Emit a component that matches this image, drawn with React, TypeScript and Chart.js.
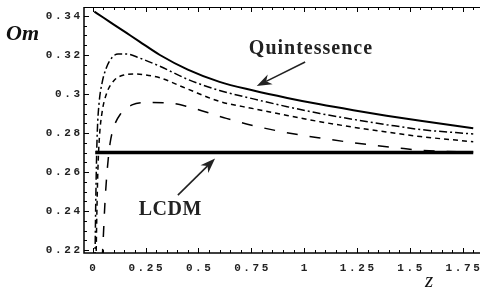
import { useEffect, useRef } from "react";
import { Chart, registerables } from "chart.js";

Chart.register(...registerables);

// ---- data ----
const zQuint = [0.008, 0.05, 0.1, 0.16, 0.22, 0.318, 0.45, 0.6, 0.76, 0.92, 1.075, 1.233, 1.39, 1.55, 1.8];
const omQuint = [0.3422, 0.3392, 0.3356, 0.3313, 0.327, 0.32, 0.3125, 0.3062, 0.3018, 0.298, 0.2947, 0.2917, 0.2889, 0.2863, 0.2825];

const zDashDot = [0.011, 0.014, 0.018, 0.022, 0.03, 0.045, 0.065, 0.09, 0.12, 0.16, 0.22, 0.318, 0.45, 0.6, 0.76, 0.92, 1.075, 1.233, 1.39, 1.55, 1.8];
const omDashDot = [0.215, 0.24, 0.265, 0.281, 0.295, 0.306, 0.3135, 0.3185, 0.3205, 0.3205, 0.3185, 0.3142, 0.3075, 0.3018, 0.2975, 0.2935, 0.29, 0.287, 0.2843, 0.2818, 0.2795];

const zShortDash = [0.016, 0.02, 0.025, 0.032, 0.045, 0.065, 0.1, 0.15, 0.2, 0.25, 0.318, 0.45, 0.6, 0.76, 0.92, 1.075, 1.233, 1.39, 1.55, 1.8];
const omShortDash = [0.215, 0.24, 0.262, 0.278, 0.291, 0.3, 0.3068, 0.3098, 0.3103, 0.3098, 0.3083, 0.3025, 0.2962, 0.2925, 0.289, 0.2858, 0.283, 0.2805, 0.2782, 0.2755];

const zLongDash = [0.045, 0.05, 0.058, 0.068, 0.082, 0.1, 0.13, 0.186, 0.257, 0.35, 0.45, 0.632, 0.76, 0.87, 0.98, 1.09, 1.22, 1.33, 1.455, 1.55, 1.65, 1.8];
const omLongDash = [0.215, 0.226, 0.244, 0.26, 0.2745, 0.283, 0.2895, 0.2944, 0.2956, 0.2955, 0.2935, 0.2875, 0.2838, 0.2812, 0.279, 0.2772, 0.2752, 0.2737, 0.2722, 0.2712, 0.2706, 0.2703];

const zLCDM = [0.012, 1.8];
const omLCDM = [0.27, 0.27];

const yTickValues = [0.22, 0.24, 0.26, 0.28, 0.3, 0.32, 0.34];
const yTickLabels = ["0.22", "0.24", "0.26", "0.28", "0.3", "0.32", "0.34"];
const xTickValues = [0, 0.25, 0.5, 0.75, 1, 1.25, 1.5, 1.75];
const xTickLabels = ["0", "0.25", "0.5", "0.75", "1", "1.25", "1.5", "1.75"];

const X_MIN = -0.041;
const X_MAX = 1.832;
const Y_MIN = 0.2185;
const Y_MAX = 0.3446;

const toPts = (xs: number[], ys: number[]) => xs.map((x, i) => ({ x, y: ys[i] }));

function drawArrow(ctx: CanvasRenderingContext2D, x1: number, y1: number, x2: number, y2: number) {
  const ang = Math.atan2(y2 - y1, x2 - x1);
  const len = 15;
  const hw = 5.5;
  const bx = x2 - len * Math.cos(ang);
  const by = y2 - len * Math.sin(ang);
  const nx = x2 - len * 0.7 * Math.cos(ang);
  const ny = y2 - len * 0.7 * Math.sin(ang);
  ctx.beginPath();
  ctx.moveTo(x1, y1);
  ctx.lineTo(nx, ny);
  ctx.lineWidth = 1.6;
  ctx.stroke();
  ctx.beginPath();
  ctx.moveTo(x2, y2);
  ctx.lineTo(bx - hw * Math.sin(ang), by + hw * Math.cos(ang));
  ctx.lineTo(nx, ny);
  ctx.lineTo(bx + hw * Math.sin(ang), by - hw * Math.cos(ang));
  ctx.closePath();
  ctx.fill();
}

function spacedText(ctx: CanvasRenderingContext2D, text: string, x: number, y: number, align: "left" | "right" | "center", spacing: number) {
  let w = 0;
  for (const ch of text) w += ctx.measureText(ch).width + spacing;
  w -= spacing;
  let cx = align === "left" ? x : align === "right" ? x - w : x - w / 2;
  for (const ch of text) {
    ctx.fillText(ch, cx, y);
    cx += ctx.measureText(ch).width + spacing;
  }
}

const axesPlugin = {
  id: "mmaAxes",
  afterDraw(chart: any) {
    const { ctx, chartArea: ca, scales } = chart;
    const xs = scales.x;
    const ys = scales.y;
    ctx.save();
    ctx.strokeStyle = "#000";
    ctx.fillStyle = "#000";
    // frame lines
    ctx.lineWidth = 1.5;
    ctx.beginPath();
    ctx.moveTo(ca.left, ca.top);
    ctx.lineTo(ca.left, ca.bottom);
    ctx.lineTo(ca.right, ca.bottom);
    ctx.stroke();
    ctx.lineWidth = 1;
    ctx.beginPath();
    ctx.moveTo(ca.left, ca.top + 0.5);
    ctx.lineTo(ca.right, ca.top + 0.5);
    ctx.stroke();

    // x ticks (bottom up, top down)
    ctx.lineWidth = 1;
    for (let i = 0; i <= 36; i++) {
      const v = i * 0.05;
      const px = Math.round(xs.getPixelForValue(v)) + 0.5;
      const major = i % 5 === 0;
      const L = major ? 5 : 3;
      ctx.beginPath();
      ctx.moveTo(px, ca.bottom);
      ctx.lineTo(px, ca.bottom - L);
      ctx.moveTo(px, ca.top);
      ctx.lineTo(px, ca.top + L);
      ctx.stroke();
    }
    // y ticks
    for (let i = 0; i <= 24; i++) {
      const v = 0.22 + i * 0.005;
      const py = Math.round(ys.getPixelForValue(v)) + 0.5;
      const major = i % 4 === 0;
      const L = major ? 5 : 3;
      ctx.beginPath();
      ctx.moveTo(ca.left, py);
      ctx.lineTo(ca.left + L, py);
      ctx.stroke();
    }

    // tick labels
    ctx.font = "bold 11px 'Liberation Mono'";
    ctx.fillStyle = "#222";
    ctx.textBaseline = "middle";
    yTickValues.forEach((v, i) => {
      spacedText(ctx, yTickLabels[i], ca.left - 4, ys.getPixelForValue(v), "right", 2.6);
    });
    xTickValues.forEach((v, i) => {
      spacedText(ctx, xTickLabels[i], xs.getPixelForValue(v), ca.bottom + 15, "center", 2.6);
    });

    // axis titles
    ctx.textBaseline = "alphabetic";
    ctx.fillStyle = "#111";
    ctx.font = "bold italic 22px 'Liberation Serif'";
    ctx.fillText("Om", 6, 40);
    ctx.font = "italic 21px 'Liberation Serif'";
    ctx.fillText("z", 425, 287);

    // annotations
    ctx.fillStyle = "#222";
    ctx.strokeStyle = "#222";
    ctx.font = "bold 20px 'Liberation Serif'";
    spacedText(ctx, "Quintessence", xs.getPixelForValue(1.03), ys.getPixelForValue(0.3205), "center", 1);
    spacedText(ctx, "LCDM", xs.getPixelForValue(0.366), ys.getPixelForValue(0.2379), "center", 0.5);
    drawArrow(ctx, xs.getPixelForValue(1.005), ys.getPixelForValue(0.3164), xs.getPixelForValue(0.776), ys.getPixelForValue(0.3041));
    drawArrow(ctx, xs.getPixelForValue(0.403), ys.getPixelForValue(0.2482), xs.getPixelForValue(0.579), ys.getPixelForValue(0.2669));
    ctx.restore();
  },
};

export default function App() {
  const ref = useRef<HTMLCanvasElement | null>(null);
  useEffect(() => {
    if (!ref.current) return;
    const common = { pointRadius: 0, fill: false, borderColor: "#000", cubicInterpolationMode: "monotone" as const };
    const chart = new Chart(ref.current, {
      type: "line",
      data: {
        datasets: [
          { ...common, label: "Quintessence", data: toPts(zQuint, omQuint), borderWidth: 2 },
          { ...common, label: "dash-dot", data: toPts(zDashDot, omDashDot), borderWidth: 1.5, borderDash: [8, 3, 2, 3] },
          { ...common, label: "short dash", data: toPts(zShortDash, omShortDash), borderWidth: 1.5, borderDash: [5, 4] },
          { ...common, label: "long dash", data: toPts(zLongDash, omLongDash), borderWidth: 1.5, borderDash: [11, 12] },
          { ...common, label: "LCDM", data: toPts(zLCDM, omLCDM), borderWidth: 3.5 },
        ],
      },
      options: {
        animation: false,
        responsive: false,
        devicePixelRatio: 1,
        layout: { padding: { left: 84, top: 7, right: 0, bottom: 39 } },
        plugins: { legend: { display: false }, tooltip: { enabled: false } },
        scales: {
          x: { type: "linear", min: X_MIN, max: X_MAX, display: false },
          y: { type: "linear", min: Y_MIN, max: Y_MAX, display: false },
        },
      },
      plugins: [axesPlugin],
    });
    return () => chart.destroy();
  }, []);
  return (
    <div style={{ position: "absolute", left: 0, top: 0, width: 480, height: 292, background: "#fff" }}>
      <canvas ref={ref} width={480} height={292} style={{ display: "block" }} />
    </div>
  );
}
